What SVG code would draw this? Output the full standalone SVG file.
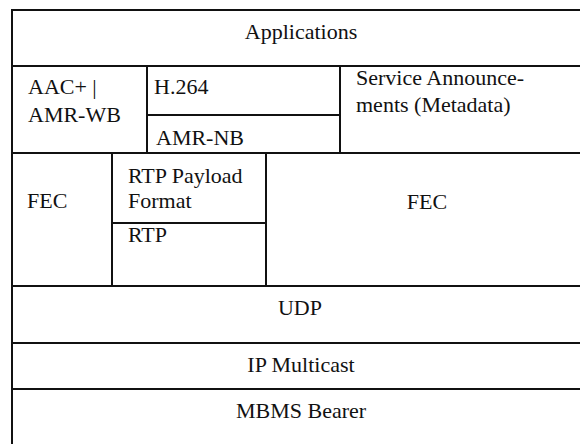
<svg xmlns="http://www.w3.org/2000/svg" width="580" height="444" viewBox="0 0 580 444">
<style>
.c{fill:#fff;stroke:#111;stroke-width:2}
.t{font-family:"Liberation Serif","Times New Roman",serif;font-size:22px;fill:#111}
.m{text-anchor:middle}
</style>
<rect width="580" height="444" fill="#fff"/>
<g id="applications"><rect class="c" x="12" y="10" width="570" height="56"/><text class="t m" x="301" y="39">Applications</text></g>
<g id="aac-amrwb"><rect class="c" x="12" y="66" width="135" height="87"/><text class="t" x="28" y="94">AAC+ |</text><text class="t" x="28" y="122">AMR-WB</text></g>
<g id="h264"><rect class="c" x="147" y="66" width="193" height="49"/><text class="t" x="154" y="94">H.264</text></g>
<g id="amr-nb"><rect class="c" x="147" y="115" width="193" height="38"/><text class="t" x="156" y="145">AMR-NB</text></g>
<g id="service-announcements"><rect class="c" x="340" y="66" width="242" height="87"/><text class="t" x="356" y="85">Service Announce-</text><text class="t" x="356" y="112">ments (Metadata)</text></g>
<g id="fec-left"><rect class="c" x="12" y="153" width="100" height="133"/><text class="t" x="27" y="208">FEC</text></g>
<g id="rtp-payload-format"><rect class="c" x="112" y="153" width="154" height="70"/><text class="t" x="128" y="183">RTP Payload</text><text class="t" x="128" y="208">Format</text></g>
<g id="rtp"><rect class="c" x="112" y="223" width="154" height="63"/><text class="t" x="128" y="242">RTP</text></g>
<g id="fec-right"><rect class="c" x="266" y="153" width="316" height="133"/><text class="t m" x="427" y="209">FEC</text></g>
<g id="udp"><rect class="c" x="12" y="286" width="570" height="57"/><text class="t m" x="300" y="315">UDP</text></g>
<g id="ip-multicast"><rect class="c" x="12" y="343" width="570" height="46"/><text class="t m" x="301" y="372">IP Multicast</text></g>
<g id="mbms-bearer"><rect class="c" x="12" y="389" width="570" height="58"/><text class="t m" x="301" y="418">MBMS Bearer</text></g>
<g id="connectors"></g>
</svg>
